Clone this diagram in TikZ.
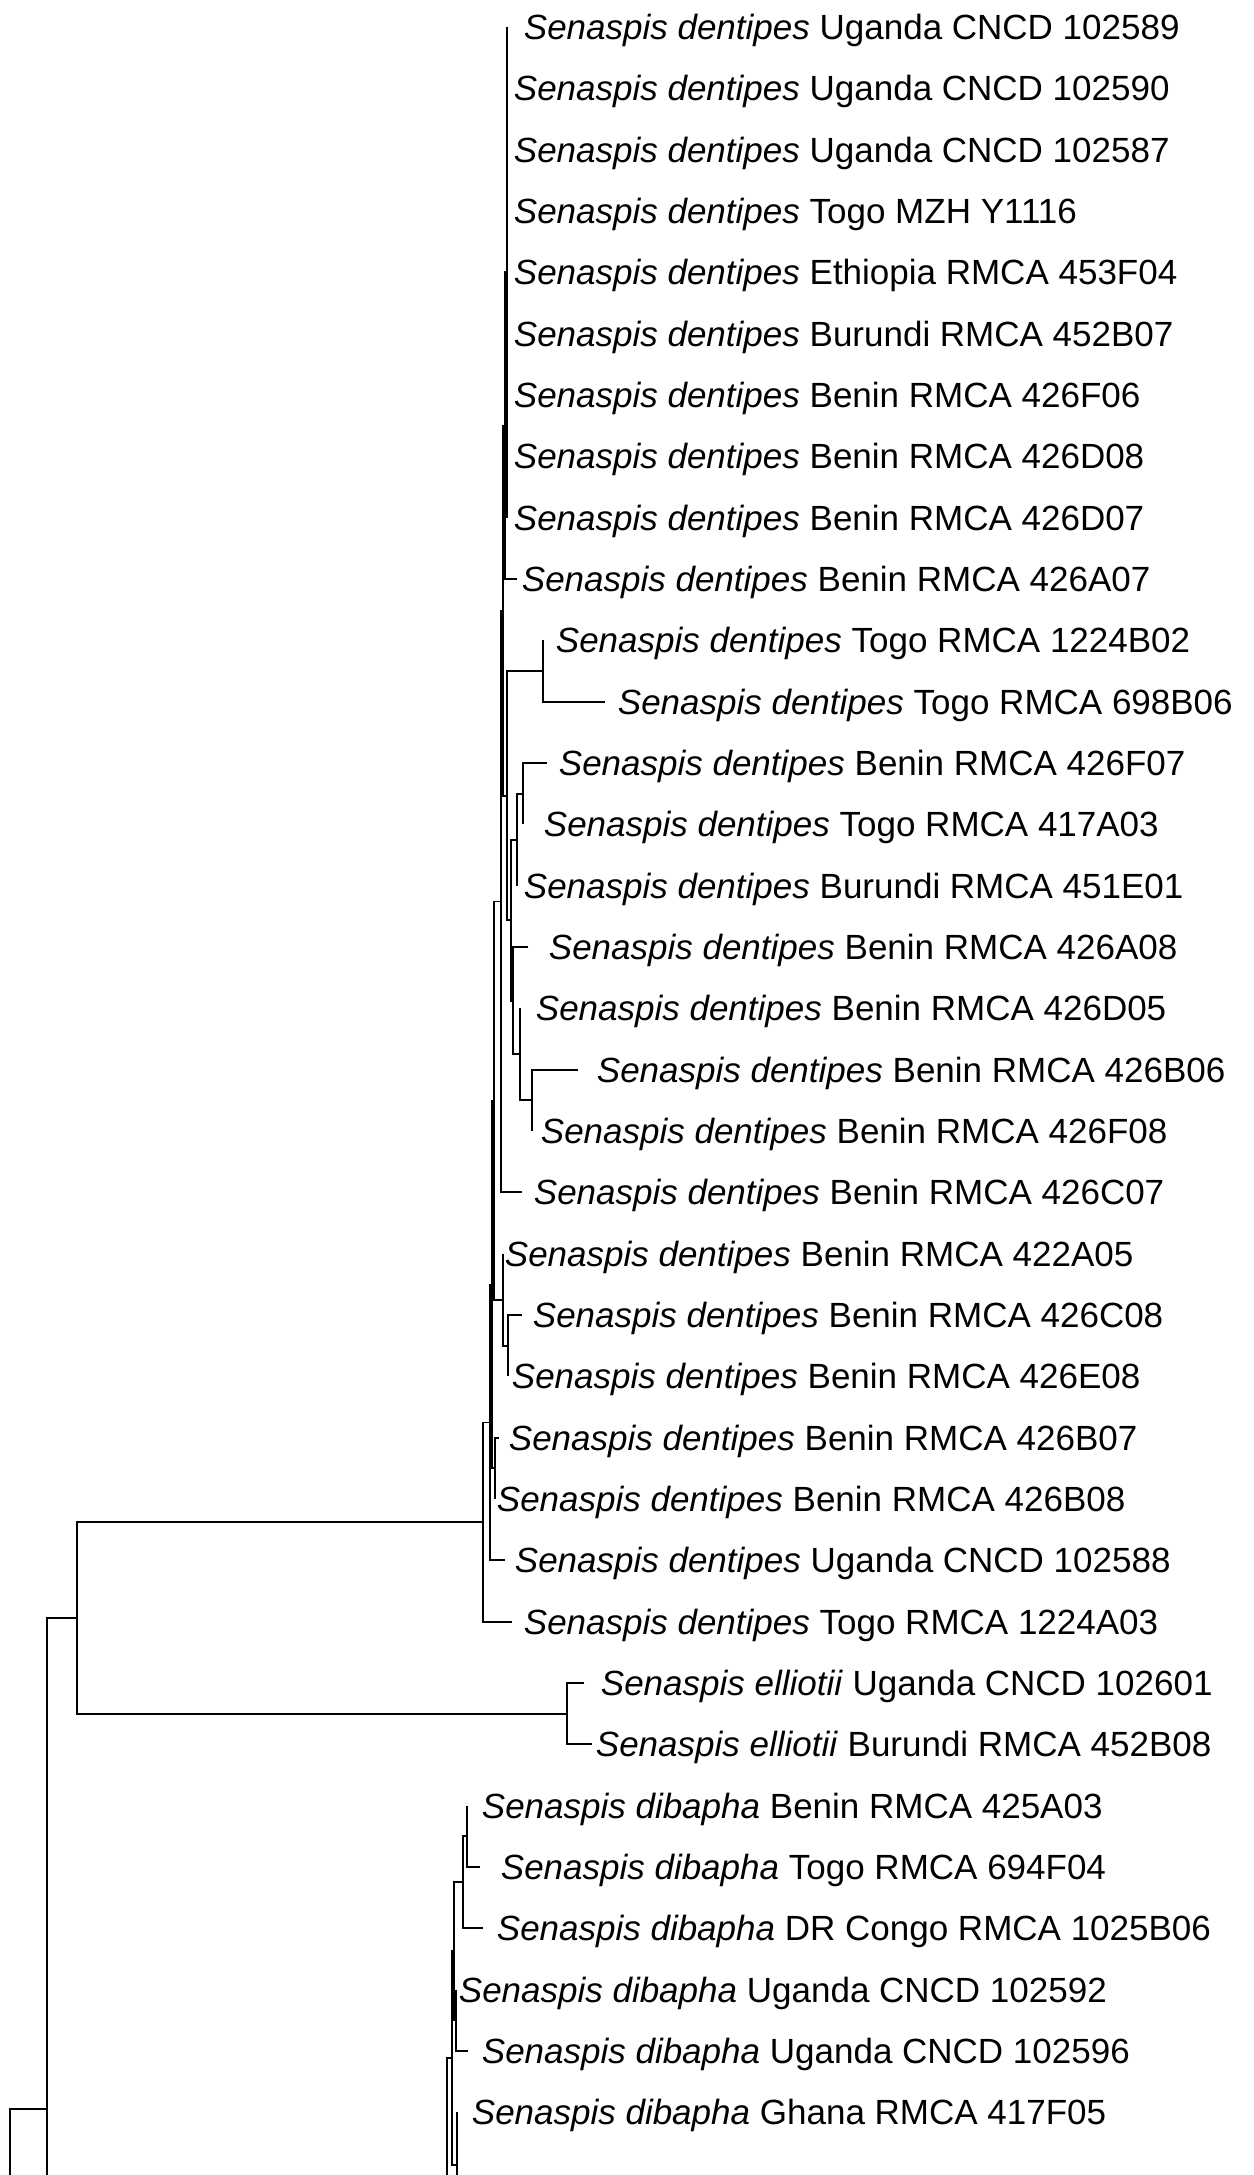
\documentclass[tikz,border=0pt]{standalone}
\usepackage{fontspec}
\setmainfont{Liberation Sans}
\newcommand\clade[3]{\draw (#2) -| (#1) |- (#3);}
\begin{document}
\begin{tikzpicture}[x=1pt,y=-1pt,line width=1.8pt,
  font=\fontsize{35}{42}\selectfont,
  taxon/.style={anchor=base west,inner sep=0pt,yshift=-12.5pt}]
  \clip (0,0) rectangle (1253,2175);
  \foreach \tx/\bx/\sp/\rest [count=\i from 0] in {
    523/507/dentipes/Uganda CNCD 102589,
    513/507/dentipes/Uganda CNCD 102590,
    513/507/dentipes/Uganda CNCD 102587,
    513/507/dentipes/Togo MZH Y1116,
    513/507/dentipes/Ethiopia RMCA 453F04,
    513/507/dentipes/Burundi RMCA 452B07,
    513/507/dentipes/Benin RMCA 426F06,
    513/507/dentipes/Benin RMCA 426D08,
    513/507/dentipes/Benin RMCA 426D07,
    521/517/dentipes/Benin RMCA 426A07,
    555/543/dentipes/Togo RMCA 1224B02,
    617/605/dentipes/Togo RMCA 698B06,
    558/547/dentipes/Benin RMCA 426F07,
    543/523/dentipes/Togo RMCA 417A03,
    523/517/dentipes/Burundi RMCA 451E01,
    548/528/dentipes/Benin RMCA 426A08,
    535/520/dentipes/Benin RMCA 426D05,
    596/578/dentipes/Benin RMCA 426B06,
    540/532/dentipes/Benin RMCA 426F08,
    533/522/dentipes/Benin RMCA 426C07,
    504/503/dentipes/Benin RMCA 422A05,
    532/522/dentipes/Benin RMCA 426C08,
    511/508/dentipes/Benin RMCA 426E08,
    508/499/dentipes/Benin RMCA 426B07,
    496/495/dentipes/Benin RMCA 426B08,
    514/505/dentipes/Uganda CNCD 102588,
    523/512/dentipes/Togo RMCA 1224A03,
    600/584/elliotii/Uganda CNCD 102601,
    595/592/elliotii/Burundi RMCA 452B08,
    481/467/dibapha/Benin RMCA 425A03,
    500/480/dibapha/Togo RMCA 694F04,
    496/483/dibapha/DR Congo RMCA 1025B06,
    458/456/dibapha/Uganda CNCD 102592,
    481/468/dibapha/Uganda CNCD 102596,
    471/457/dibapha/Ghana RMCA 417F05}
  {
    \coordinate (t\i) at (\bx,{27+61.33*\i});
    \node[taxon] (lab\i) at (\tx,{27+61.33*\i}) {\textit{Senaspis \sp} \rest};
  }
  \coordinate (S2) at (507,272.3);
  \coordinate (S1) at (505,425.7);
  \coordinate (T) at (543,671);
  \coordinate (Z) at (523,793.7);
  \coordinate (X) at (517,839.7);
  \coordinate (Y) at (532,1100.3);
  \coordinate (Q) at (520,1054.3);
  \coordinate (V) at (513,1000.7);
  \coordinate (P) at (511,920.2);
  \coordinate (K) at (507,795.6);
  \coordinate (C0) at (503,610.7);
  \coordinate (N3) at (501,901.5);
  \coordinate (M2) at (508,1345.7);
  \coordinate (M1) at (503,1299.7);
  \coordinate (H) at (494,1100.6);
  \coordinate (J) at (495,1468.3);
  \coordinate (N2) at (492,1284.5);
  \coordinate (N1) at (490,1422.4);
  \coordinate (Rd) at (483,1522);
  \coordinate (El) at (567,1713.7);
  \coordinate (R1) at (77,1617.9);
  \coordinate (R0) at (47,2109);
  \coordinate (Dib) at (440,2600);
  \coordinate (Rt) at (10,2400);
  \coordinate (Out) at (300,2700);
  \coordinate (A) at (467,1836.3);
  \coordinate (B) at (463,1882.3);
  \coordinate (Dd) at (456,2020.3);
  \coordinate (Cq) at (454,1951.3);
  \coordinate (F) at (457,2165);
  \coordinate (F2) at (470,2218);
  \coordinate (Cp) at (452,2058.2);
  \coordinate (E) at (447,2200);
  \coordinate (E2) at (460,2342);
  \draw (t0) -- (t8);
  \clade{S1}{S2}{t9}
  \clade{T}{t10}{t11}
  \clade{Z}{t12}{t13}
  \clade{X}{Z}{t14}
  \clade{Y}{t17}{t18}
  \clade{Q}{t16}{Y}
  \clade{V}{t15}{Q}
  \clade{P}{X}{V}
  \clade{K}{T}{P}
  \clade{C0}{S1}{K}
  \clade{N3}{C0}{t19}
  \clade{M2}{t21}{t22}
  \clade{M1}{t20}{M2}
  \clade{H}{N3}{M1}
  \clade{J}{t23}{t24}
  \clade{N2}{H}{J}
  \clade{N1}{N2}{t25}
  \clade{Rd}{N1}{t26}
  \clade{El}{t27}{t28}
  \clade{R1}{Rd}{El}
  \clade{R0}{R1}{Dib}
  \clade{Rt}{R0}{Out}
  \clade{A}{t29}{t30}
  \clade{B}{A}{t31}
  \clade{Dd}{t32}{t33}
  \clade{Cq}{B}{Dd}
  \clade{F}{t34}{F2}
  \clade{Cp}{Cq}{F}
  \clade{E}{Cp}{E2}
\end{tikzpicture}
\end{document}
